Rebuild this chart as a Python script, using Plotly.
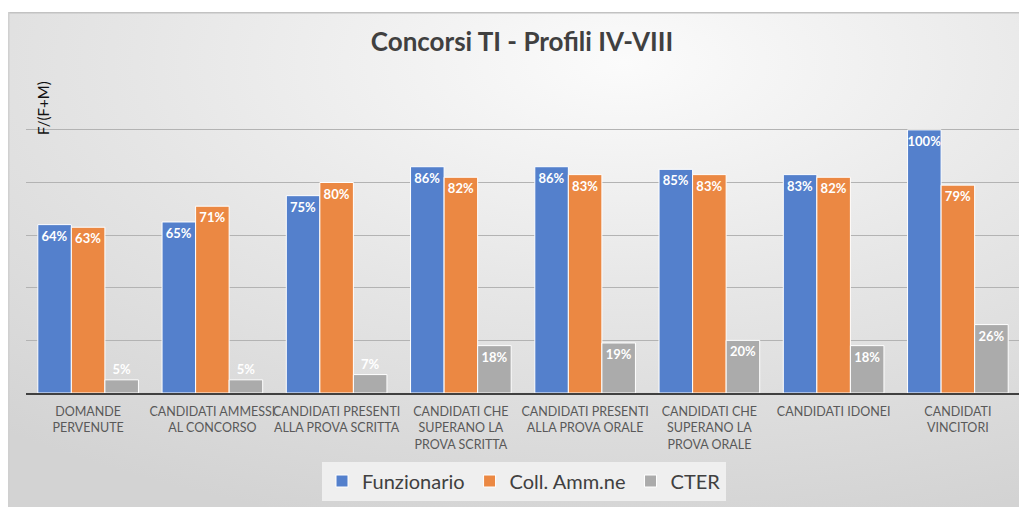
import base64
import plotly.graph_objects as go

categories = [
    "DOMANDE<br>PERVENUTE",
    "CANDIDATI AMMESSI<br>AL CONCORSO",
    "CANDIDATI PRESENTI<br>ALLA PROVA SCRITTA",
    "CANDIDATI CHE<br>SUPERANO LA<br>PROVA SCRITTA",
    "CANDIDATI PRESENTI<br>ALLA PROVA ORALE",
    "CANDIDATI CHE<br>SUPERANO LA<br>PROVA ORALE",
    "CANDIDATI IDONEI",
    "CANDIDATI<br>VINCITORI",
]
funzionario = [0.64, 0.65, 0.75, 0.86, 0.86, 0.85, 0.83, 1.00]
coll_amm = [0.63, 0.71, 0.80, 0.82, 0.83, 0.83, 0.82, 0.79]
cter = [0.05, 0.05, 0.07, 0.18, 0.19, 0.20, 0.18, 0.26]

series = [
    ("Funzionario", funzionario, "#5480CC"),
    ("Coll. Amm.ne", coll_amm, "#EB8843"),
    ("CTER", cter, "#ABABAB"),
]

FONT = "Lato, 'Open Sans', sans-serif"
W, H = 1027, 507
OFF = 8  # page body margin
# plot area in screenshot pixels: x 26..1020, y 77..393
ML = 26 - OFF
MT = 77 - OFF
MR = W - (1020 - OFF)
MB = H - (393 - OFF)
pw, ph = W - ML - MR, H - MT - MB
plot_bottom = H - MB


def sx(x):
    return (x - OFF - ML) / pw


def sy(y):
    return (plot_bottom - (y - OFF)) / ph


fig = go.Figure()
for name, vals, col in series:
    fig.add_trace(go.Bar(
        name=name, x=categories, y=vals,
        marker=dict(color=col, line=dict(color="white", width=1)),
        text=[f"{round(v*100)}%" for v in vals],
        textposition=["inside" if v >= 0.1 else "outside" for v in vals],
        insidetextanchor="end",
        constraintext="none", textangle=0, cliponaxis=False,
        textfont=dict(family=FONT, size=13, color="white", weight="bold"),
        hoverinfo="skip",
    ))

# gradient background of the chart box (screenshot x 8.., y 12..)
bw, bh = W - (8 - OFF), H - (12 - OFF)
svg = (f'<svg xmlns="http://www.w3.org/2000/svg" width="{bw}" height="{bh}">'
       '<defs><radialGradient id="g" cx="0.6" cy="0.1" r="0.95">'
       '<stop offset="0" stop-color="#fbfbfb"/>'
       '<stop offset="0.5" stop-color="#e6e6e6"/>'
       '<stop offset="1" stop-color="#d3d3d3"/></radialGradient></defs>'
       f'<rect x="0" y="0" width="{bw}" height="{bh}" fill="url(#g)"/>'
       f'<line x1="0" y1="0.75" x2="{bw}" y2="0.75" stroke="#c2c2c2" stroke-width="1.5"/>'
       f'<line x1="0.75" y1="0" x2="0.75" y2="{bh}" stroke="#d0d0d0" stroke-width="1.5"/>'
       '</svg>')
src = "data:image/svg+xml;base64," + base64.b64encode(svg.encode()).decode()

fig.update_layout(
    width=W, height=H,
    margin=dict(l=ML, r=MR, t=MT, b=MB, pad=0, autoexpand=False),
    paper_bgcolor="white", plot_bgcolor="rgba(0,0,0,0)",
    images=[dict(source=src, xref="paper", yref="paper",
                 x=sx(8), y=sy(12),
                 sizex=bw / pw, sizey=bh / ph,
                 xanchor="left", yanchor="top", sizing="stretch", layer="below")],
    barmode="group", bargap=0.19, bargroupgap=0,
    title=dict(text="<b>Concorsi TI - Profili IV-VIII</b>",
               x=(522 - OFF) / W, xanchor="center",
               y=1 - (42 - OFF) / H, yanchor="middle",
               font=dict(family=FONT, size=26, color="#404040")),
    font=dict(family=FONT),
    showlegend=True,
    legend=dict(orientation="h", x=(524 - OFF) / W, xref="container", xanchor="center",
                y=1 - (481 - OFF) / H, yref="container", yanchor="middle",
                bgcolor="#efefef", font=dict(family=FONT, size=20, color="#404040"),
                itemclick=False, itemdoubleclick=False),
    xaxis=dict(showline=True, linecolor="#404040", linewidth=2,
               ticks="", tickangle=0, automargin=False, ticklabelstandoff=6,
               tickfont=dict(family=FONT, size=12.5, color="#595959"),
               showgrid=False, fixedrange=True),
    yaxis=dict(range=[0, 1.201], dtick=0.2, showticklabels=False, ticks="",
               automargin=False,
               showgrid=True, gridcolor="#b3b3b3", gridwidth=1,
               zeroline=False, showline=False, fixedrange=True),
    annotations=[dict(text="F/(F+M)", textangle=-90, xref="paper", yref="paper",
                      x=sx(43), y=sy(108),
                      xanchor="center", yanchor="middle", showarrow=False,
                      font=dict(family=FONT, size=15, color="#111111"))],
)

fig.write_html("out.html")
